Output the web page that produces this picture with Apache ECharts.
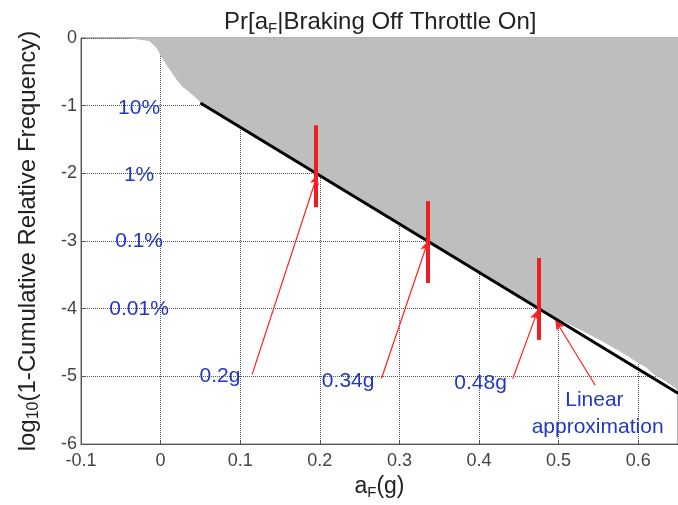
<!DOCTYPE html>
<html>
<head>
<meta charset="utf-8">
<script src="https://cdn.jsdelivr.net/npm/echarts@6/dist/echarts.min.js"></script>
<style>
  html, body { margin: 0; padding: 0; background: #fff; }
  #chart { width: 678px; height: 505px; }
</style>
</head>
<body>
<div id="chart"></div>
<script>
// empirical tail curve (log10 of 1 - CDF), gray filled above it
const curveX = [-0.1, -0.04, -0.014, -0.005, 0.001, 0.0075, 0.014, 0.021, 0.0275, 0.04, 0.05,
  0.1, 0.15, 0.2, 0.25, 0.3, 0.35, 0.4, 0.45, 0.5, 0.52, 0.55, 0.58, 0.6, 0.61, 0.62, 0.635, 0.65];
const curveY = [0, -0.005, -0.044, -0.147, -0.28, -0.4, -0.51, -0.63, -0.72, -0.84, -0.95,
  -1.31, -1.67, -2.02, -2.38, -2.73, -3.09, -3.45, -3.8, -4.15, -4.27, -4.45, -4.65, -4.8, -4.87, -4.97, -5.08, -5.2];

// linear approximation
const linearX = [0.05, 0.65];
const linearY = [-0.96, -5.25];

// red vertical bars
const barX = [0.195, 0.336, 0.475];
const barTop = [-1.29, -2.41, -3.25];
const barBottom = [-2.5, -3.62, -4.46];

// arrows: from label to point
const arrowFromX = [0.115, 0.2775, 0.4425, 0.546];
const arrowFromY = [-4.97, -5.03, -5.03, -5.13];
const arrowToX = [0.197, 0.336, 0.474, 0.496];
const arrowToY = [-2.02, -3.0, -4.02, -4.17];

// blue annotations
const noteText = ['10%', '1%', '0.1%', '0.01%', '0.2g', '0.34g', '0.48g', 'Linear', 'approximation'];
const noteX = [-0.027, -0.027, -0.027, -0.027, 0.0745, 0.2356, 0.402, 0.545, 0.549];
const noteY = [-1.04, -2.03, -3.0, -4.0, -5.0, -5.07, -5.1, -5.35, -5.75];

const xTicks = { min: -0.1, max: 0.65, interval: 0.1 };
const yTicks = { min: -6, max: 0, interval: 1 };

const font = 'Liberation Sans, Arial, sans-serif';

let chart = echarts.init(document.getElementById('chart'));

let markBars = barX.map((x, i) => [
  { coord: [x, barTop[i]] },
  { coord: [x, barBottom[i]] },
]);
let markArrows = arrowFromX.map((x, i) => [
  { coord: [x, arrowFromY[i]] },
  { coord: [arrowToX[i], arrowToY[i]] },
]);

// text with a subscript piece
const subRich = (size, subSize, shift) => ({
  n: { fontFamily: font, fontSize: size, fontWeight: 'normal', color: '#222' },
  s: { fontFamily: font, fontSize: subSize, fontWeight: 'normal', color: '#222', padding: [shift, 0, 0, 0] },
});

let option = {
  animation: false,
  title: {
    text: '{n|Pr[a}{s|F}{n||Braking Off Throttle On]}',
    left: 219,
    top: 4,
    textStyle: { fontWeight: 'normal', rich: subRich(24, 15, 12) },
  },
  grid: {
    left: 81,
    right: -3,
    top: 38,
    bottom: 59,
    show: true,
    borderColor: '#666',
    borderWidth: 1,
  },
  xAxis: {
    type: 'value',
    min: xTicks.min,
    max: xTicks.max,
    interval: xTicks.interval,
    name: '{n|a}{s|F}{n|(g)}',
    nameLocation: 'middle',
    nameGap: 22,
    nameTextStyle: { rich: subRich(23, 15, 12) },
    axisLine: { onZero: false, lineStyle: { color: '#555', width: 1 } },
    axisTick: { inside: true, length: 4, lineStyle: { color: '#555' } },
    axisLabel: {
      fontFamily: font,
      fontSize: 18,
      color: '#444',
      margin: 8,
      showMaxLabel: false,
    },
    splitLine: { show: true, lineStyle: { type: 'dotted', color: '#555', width: 1 } },
  },
  yAxis: {
    type: 'value',
    min: yTicks.min,
    max: yTicks.max,
    interval: yTicks.interval,
    name: '{n|log}{s|10}{n|(1-Cumulative Relative Frequency)}',
    nameLocation: 'middle',
    nameGap: 39,
    nameTextStyle: { rich: subRich(24, 16, 12) },
    axisLine: { onZero: false, lineStyle: { color: '#555', width: 1 } },
    axisTick: { inside: true, length: 4, lineStyle: { color: '#555' } },
    axisLabel: { fontFamily: font, fontSize: 18, color: '#444', margin: 4 },
    splitLine: { show: true, lineStyle: { type: 'dotted', color: '#555', width: 1 } },
  },
  series: [
    {
      name: 'empirical',
      type: 'line',
      data: curveX.map((x, i) => [x, curveY[i]]),
      showSymbol: false,
      lineStyle: { width: 0 },
      areaStyle: { origin: 'end', color: '#bebebe', opacity: 1 },
      silent: true,
      z: 1,
    },
    {
      name: 'linear',
      type: 'line',
      data: linearX.map((x, i) => [x, linearY[i]]),
      showSymbol: false,
      lineStyle: { color: '#000', width: 3 },
      silent: true,
      z: 3,
      markLine: {
        silent: true,
        symbol: ['none', 'none'],
        label: { show: false },
        lineStyle: { color: '#ee1c24', width: 4, type: 'solid' },
        data: markBars,
        z: 4,
      },
    },
    {
      name: 'arrows',
      type: 'line',
      data: [],
      silent: true,
      z: 5,
      markLine: {
        silent: true,
        symbol: ['none', 'arrow'],
        symbolSize: [7, 10],
        label: { show: false },
        lineStyle: { color: '#ff2020', width: 1.2, type: 'solid' },
        data: markArrows,
        z: 5,
      },
    },
    {
      name: 'notes',
      type: 'scatter',
      symbolSize: 0,
      silent: true,
      z: 6,
      itemStyle: { opacity: 1 },
      data: noteX.map((x, i) => [x, noteY[i], noteText[i]]),
      label: {
        show: true,
        position: 'inside',
        formatter: (p) => p.data[2],
        fontFamily: font,
        fontSize: 21,
        color: '#2238c0',
        textBorderWidth: 0,
        textBorderColor: 'transparent',
      },
    },
  ],
};

chart.setOption(option);
</script>
</body>
</html>
